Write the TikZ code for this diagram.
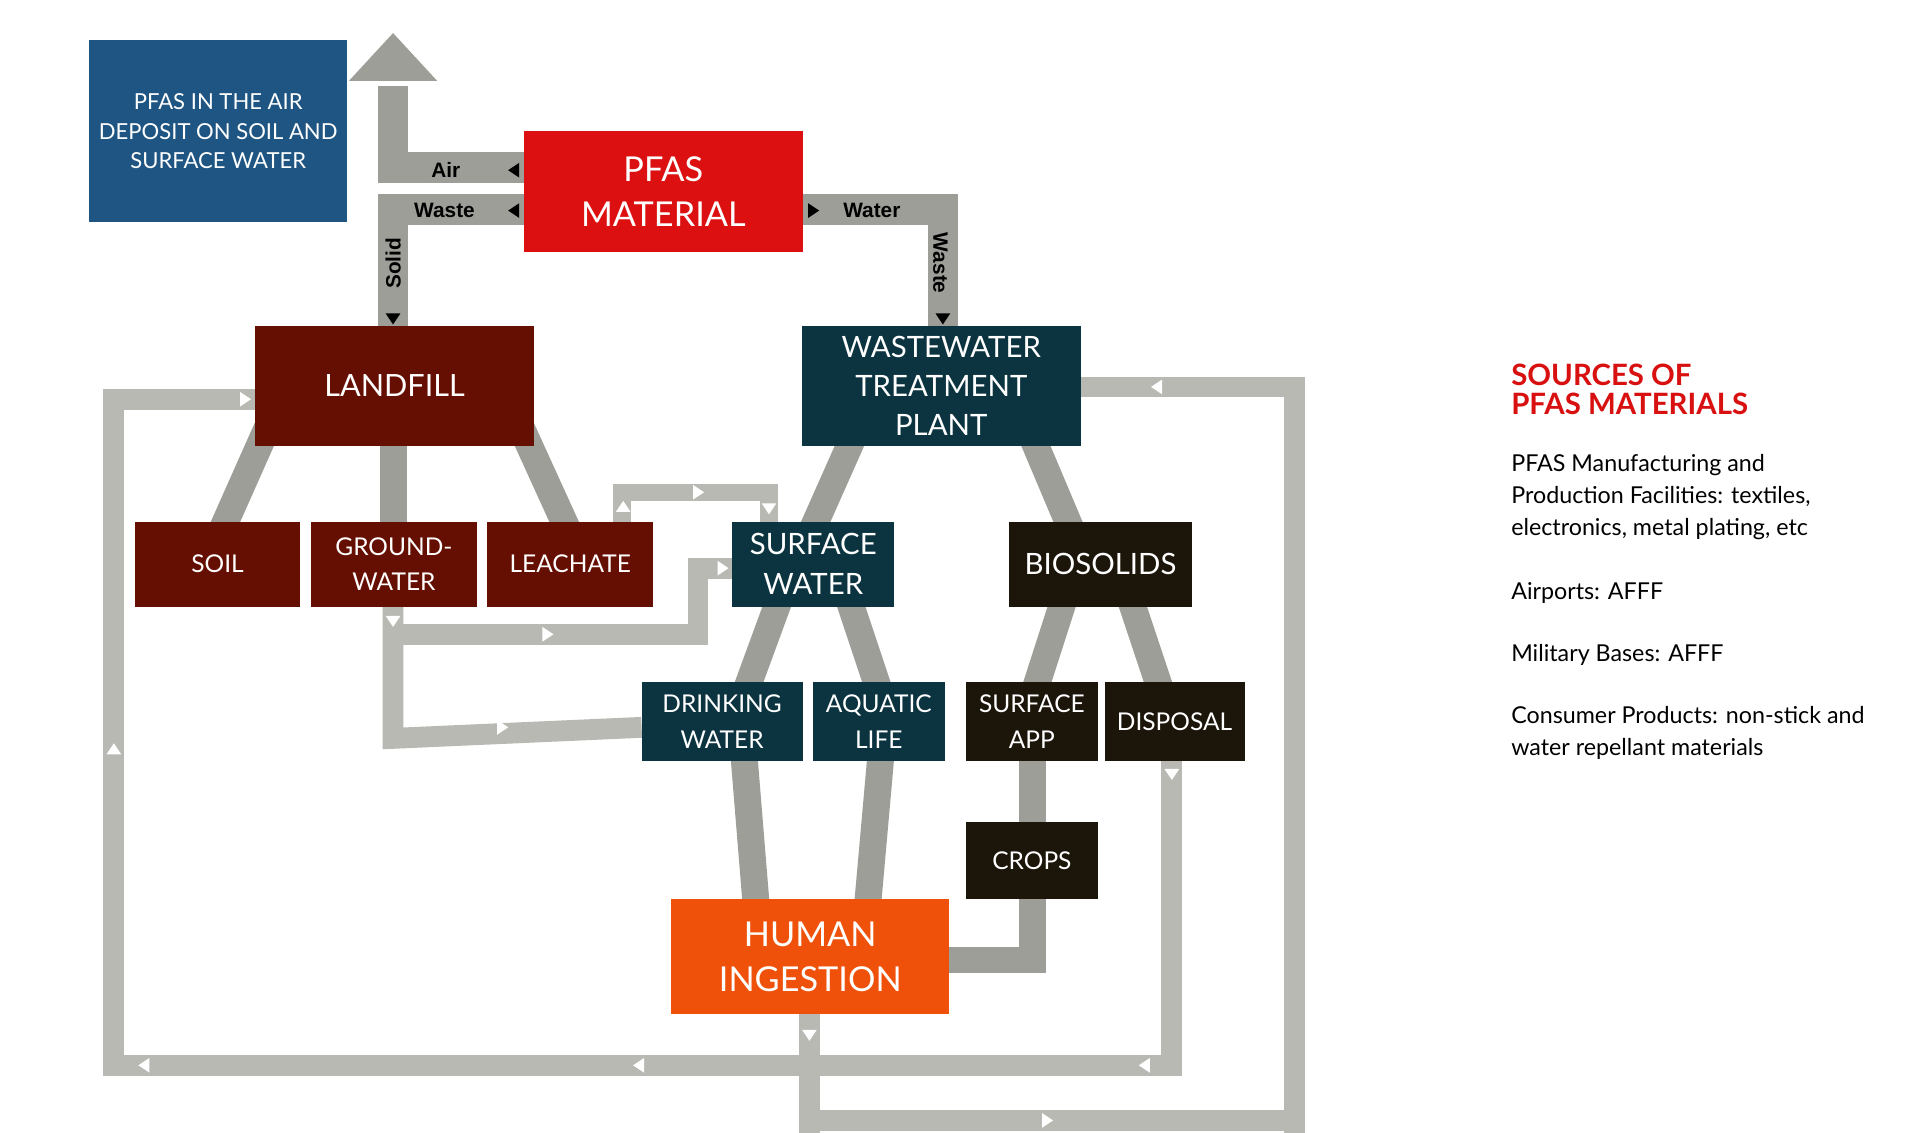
\documentclass[tikz,border=0pt]{standalone}
\usepackage{fontspec}
\setmainfont{Lato}
\newfontfamily\lblfont{Liberation Sans}
\usetikzlibrary{calc}
\definecolor{airblue}{HTML}{1F5582}
\definecolor{pfasred}{HTML}{DC1010}
\definecolor{brown}{HTML}{650F02}
\definecolor{teal}{HTML}{0B3440}
\definecolor{blackish}{HTML}{1C150A}
\definecolor{orng}{HTML}{F0510A}
\definecolor{dgray}{HTML}{9D9E98}
\definecolor{lgray}{HTML}{B8B9B2}
\definecolor{srcred}{HTML}{D81010}
\tikzset{
  box/.style={anchor=north west,inner sep=0pt,text=white,align=center,font=\fontsize{19}{23}\selectfont},
  band/.style={dgray,line width=22pt},
  loop/.style={lgray,line width=17pt},
  lbl/.style={font=\lblfont\bfseries\fontsize{17}{20}\selectfont,inner sep=0pt},
  triR/.pic={\fill (-4,-6)--(5,0)--(-4,6)--cycle;},
  triL/.pic={\fill (4,-6)--(-5,0)--(4,6)--cycle;},
  triD/.pic={\fill (-6,-4)--(6,-4)--(0,5)--cycle;},
  triU/.pic={\fill (-6,4)--(6,4)--(0,-5)--cycle;},
}
\begin{document}
\begin{tikzpicture}[x=1pt,y=-1pt]
\useasboundingbox[fill=white] (0,0) rectangle (1568,925);
% ---- nodes geometry via coordinates
\coordinate (top) at (321,27);
\coordinate (cA) at (321,137);
\coordinate (cW) at (321,171);
\coordinate (cR) at (770,171);
% ---- Box nodes (drawn later but named now via invisible placeholders)
\path
 (73,33) node[box,minimum width=210pt,minimum height=148pt] (air) {}
 (428,107) node[box,minimum width=227pt,minimum height=98pt] (pfas) {}
 (208,266) node[box,minimum width=228pt,minimum height=98pt] (landfill) {}
 (655,266) node[box,minimum width=227pt,minimum height=98pt] (wwtp) {}
 (110,426) node[box,minimum width=135pt,minimum height=69pt] (soil) {}
 (254,426) node[box,minimum width=135pt,minimum height=69pt] (gw) {}
 (398,426) node[box,minimum width=135pt,minimum height=69pt] (leach) {}
 (598,426) node[box,minimum width=132pt,minimum height=69pt] (sw) {}
 (824,426) node[box,minimum width=149pt,minimum height=69pt] (bio) {}
 (524,557) node[box,minimum width=131pt,minimum height=64pt] (dw) {}
 (664,557) node[box,minimum width=107pt,minimum height=64pt] (al) {}
 (789,557) node[box,minimum width=107pt,minimum height=64pt] (sa) {}
 (902,557) node[box,minimum width=114pt,minimum height=64pt] (disp) {}
 (789,671) node[box,minimum width=107pt,minimum height=63pt] (crops) {}
 (548,734) node[box,minimum width=227pt,minimum height=94pt] (human) {};
% ---- light loops
\draw[loop] (human.south -| 661,0) ++(0,0) coordinate (h1);
\draw[loop] (661,828) -- (661,940) -- (1057,940) -- (1057,316) -- (wwtp.east |- 0,316);
\draw[lgray,line width=17pt] (661,828) -- (661,915) -- (1057,915);
\draw[loop] (957,621) -- (957,870) -- (93,870) -- (93,326) -- (landfill.west |- 0,326);
\draw[loop] (321,495) -- (321,603) -- (dw.west |- 0,594);
\draw[loop] (321,495) -- (321,518) -- (570,518) -- (570,464) -- (sw.west |- 0,464);
\draw[lgray,line width=14pt] (508,426) -- (508,402) -- (628,402) -- (628,426);
% ---- dark bands
\draw[band,line width=25pt] (top |- 0,70) -- (321,137) -- (pfas.west |- 0,137);
\draw[band,line width=25pt] (pfas.west |- 0,171) -- (321,171) -- (landfill.north -| 321,0);
\draw[band,line width=25pt] (pfas.east |- 0,171) -- (770,171) -- (wwtp.north -| 770,0);
\fill[dgray] (285,66) -- (321,27) -- (357,66) -- cycle;
\draw[band] (218,350) -- (178,440);
\draw[band] (321,350) -- (321,440);
\draw[band] (426,350) -- (467,440);
\draw[band] (700,350) -- (660,440);
\draw[band] (840,350) -- (878,440);
\draw[band] (640,480) -- (607,570);
\draw[band] (690,480) -- (720,570);
\draw[band] (872,480) -- (843,570);
\draw[band] (920,480) -- (950,570);
\draw[band] (607,610) -- (618,745);
\draw[band] (720,610) -- (708,745);
\draw[band] (843,610) -- (843,680);
\draw[band] (843,720) -- (843,784) -- (760,784);
% ---- boxes
\fill[airblue] (air.north west) rectangle (air.south east);
\fill[pfasred] (pfas.north west) rectangle (pfas.south east);
\foreach \n in {landfill,soil,gw,leach}{\fill[brown] (\n.north west) rectangle (\n.south east);}
\foreach \n in {wwtp,sw,dw,al}{\fill[teal] (\n.north west) rectangle (\n.south east);}
\foreach \n in {bio,sa,disp,crops}{\fill[blackish] (\n.north west) rectangle (\n.south east);}
\fill[orng] (human.north west) rectangle (human.south east);
% ---- texts
\tikzset{t/.style={text=white,align=center,inner sep=0pt}}
\node[t,font=\fontsize{18}{24}\selectfont] at (air.center) {PFAS IN THE AIR\\DEPOSIT ON SOIL AND\\SURFACE WATER};
\node[t,font=\fontsize{28}{37}\selectfont] at (pfas.center) {PFAS\\MATERIAL};
\node[t,font=\fontsize{25}{32}\selectfont] at (landfill.center) {LANDFILL};
\node[t,font=\fontsize{24}{32}\selectfont] at (wwtp.center) {WASTEWATER\\TREATMENT\\PLANT};
\node[t,font=\fontsize{20}{28}\selectfont] at (soil.center) {SOIL};
\node[t,font=\fontsize{20}{28}\selectfont] at (gw.center) {GROUND-\\WATER};
\node[t,font=\fontsize{20}{28}\selectfont] at (leach.center) {LEACHATE};
\node[t,font=\fontsize{24}{33}\selectfont] at (sw.center) {SURFACE\\WATER};
\node[t,font=\fontsize{24}{30}\selectfont] at (bio.center) {BIOSOLIDS};
\node[t,font=\fontsize{20}{29}\selectfont] at (dw.center) {DRINKING\\WATER};
\node[t,font=\fontsize{20}{29}\selectfont] at (al.center) {AQUATIC\\LIFE};
\node[t,font=\fontsize{20}{29}\selectfont] at (sa.center) {SURFACE\\APP};
\node[t,font=\fontsize{20}{29}\selectfont] at (disp.center) {DISPOSAL};
\node[t,font=\fontsize{20}{29}\selectfont] at (crops.center) {CROPS};
\node[t,font=\fontsize{28}{37}\selectfont] at (human.center) {HUMAN\\INGESTION};
% ---- band labels
\node[lbl] at (364,139) {Air};
\node[lbl] at (363,172) {Waste};
\node[lbl,rotate=90] at (321,215) {Solid};
\node[lbl] at (712,172) {Water};
\node[lbl,rotate=-90] at (768,215) {Waste};
% ---- triangles
\begin{scope}[black]
\pic[fill=black] at (420,139) {triL};
\pic[fill=black] at (420,172) {triL};
\pic[fill=black] at (321,260) {triD};
\pic[fill=black] at (664,172) {triR};
\pic[fill=black] at (770,260) {triD};
\end{scope}
\begin{scope}
\tikzset{every pic/.style={fill=white}}
\pic[fill=white] at (509,414) {triU};
\pic[fill=white] at (570,402) {triR};
\pic[fill=white] at (628,415) {triD};
\pic[fill=white] at (321,507) {triD};
\pic[fill=white] at (447,518) {triR};
\pic[fill=white] at (590,464) {triR};
\pic[fill=white] at (410,594) {triR};
\pic[fill=white] at (957,632) {triD};
\pic[fill=white] at (935,870) {triL};
\pic[fill=white] at (522,870) {triL};
\pic[fill=white] at (118,870) {triL};
\pic[fill=white] at (93,612) {triU};
\pic[fill=white] at (200,326) {triR};
\pic[fill=white] at (661,845) {triD};
\pic[fill=white] at (855,915) {triR};
\pic[fill=white] at (945,316) {triL};
\end{scope}
% ---- side text
\node[anchor=north west,align=left,inner sep=0pt,text=srcred,font=\bfseries\fontsize{24}{24}\selectfont] (src) at (1234,297) {SOURCES OF\\PFAS MATERIALS};
\node[anchor=north west,align=left,inner sep=0pt,font=\fontsize{19}{26}\selectfont] (body) at (1234,371) {PFAS Manufacturing and\\Production Facilities: textiles,\\electronics, metal plating, etc\\[26pt]Airports: AFFF\\[25pt]Military Bases: AFFF\\[25pt]Consumer Products: non-stick and\\water repellant materials};
\end{tikzpicture}
\end{document}
